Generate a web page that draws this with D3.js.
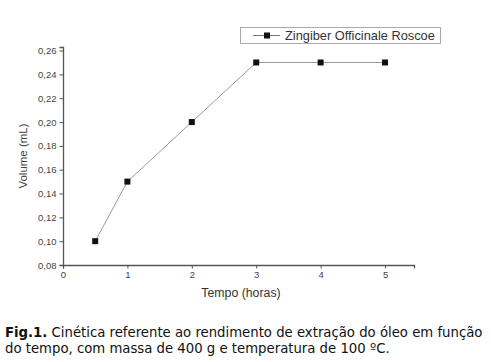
<!DOCTYPE html>
<html><head><meta charset="utf-8">
<script src="https://cdn.jsdelivr.net/npm/d3@7"></script>
<style>body{margin:0;background:#fff}svg{display:block}</style>
</head><body>
<svg id="c" width="491" height="362"></svg>
<script>
const hours = [0.5, 1, 2, 3, 4, 5];
const volume = [0.10, 0.15, 0.20, 0.25, 0.25, 0.25];
const xTicks = [0, 1, 2, 3, 4, 5];
const yTicks = [0.08, 0.10, 0.12, 0.14, 0.16, 0.18, 0.20, 0.22, 0.24, 0.26];
const seriesName = "Zingiber Officinale Roscoe";
const xTitle = "Tempo (horas)";
const yTitle = "Volume (mL)";

const svg = d3.select("#c");
const x = d3.scaleLinear().domain([0, 5.45]).range([63, 414]);
const y = d3.scaleLinear().domain([0.08, 0.263]).range([265, 47]);
const fmt = d => d3.format(".2f")(d).replace(".", ",");
const axCol = "#555";
const sans = "'Liberation Sans', Arial, sans-serif";

const gx = svg.append("g").attr("transform", `translate(0,${y(0.08)})`);
gx.call(d3.axisBottom(x).tickValues(d3.range(0.5, 5.5, 1)).tickSize(2).tickFormat(""));
gx.call(d3.axisBottom(x).tickValues(xTicks).tickSize(3.5).tickFormat(d3.format("d")).tickPadding(3));
const gy = svg.append("g").attr("transform", `translate(${x(0)},0)`);
gy.call(d3.axisLeft(y).tickValues(d3.range(0.09, 0.26, 0.02)).tickSize(2).tickFormat(""));
gy.call(d3.axisLeft(y).tickValues(yTicks).tickSize(3.5).tickFormat(fmt).tickPadding(3));
svg.selectAll(".domain").attr("stroke", axCol).attr("stroke-width", 1.3);
svg.selectAll(".tick line").attr("stroke", axCol);
svg.selectAll(".tick text").attr("fill", "#444").style("font", `9.5px ${sans}`);

svg.append("text").attr("x", 241).attr("y", 297).attr("text-anchor", "middle")
  .attr("fill", "#333").style("font", `12.3px ${sans}`).text(xTitle);
svg.append("text").attr("transform", `translate(27,${(y(0.08)+y(0.263))/2}) rotate(-90)`)
  .attr("text-anchor", "middle").attr("fill", "#444").style("font", `11.5px ${sans}`).text(yTitle);

const pts = hours.map((h, i) => [h, volume[i]]);
svg.append("path").datum(pts).attr("fill", "none").attr("stroke", "#999").attr("stroke-width", 1)
  .attr("d", d3.line().x(d => x(d[0])).y(d => y(d[1])));
svg.selectAll("rect.m").data(pts).join("rect").attr("class", "m")
  .attr("x", d => x(d[0]) - 3).attr("y", d => y(d[1]) - 3).attr("width", 6).attr("height", 6).attr("fill", "#111");

// legend
const lg = svg.append("g");
lg.append("rect").attr("x", 240.5).attr("y", 27.5).attr("width", 200).attr("height", 16)
  .attr("fill", "#fff").attr("stroke", "#aaa");
lg.append("line").attr("x1", 253).attr("x2", 280).attr("y1", 35.5).attr("y2", 35.5).attr("stroke", "#777");
lg.append("rect").attr("x", 264).attr("y", 32.5).attr("width", 6).attr("height", 6).attr("fill", "#111");
lg.append("text").attr("x", 285).attr("y", 40).attr("fill", "#333")
  .style("font", `12.8px ${sans}`).text(seriesName);

// caption
const cap = svg.append("text").attr("fill", "#111").style("font", "13.25px 'DejaVu Sans', Verdana, sans-serif");
const l1 = cap.append("tspan").attr("x", 5).attr("y", 337);
l1.append("tspan").attr("font-weight", "bold").text("Fig.1.");
l1.append("tspan").text(" Cinética referente ao rendimento de extração do óleo em função");
cap.append("tspan").attr("x", 5).attr("y", 353).text("do tempo, com massa de 400 g e temperatura de 100 ºC.");
</script>
</body></html>
